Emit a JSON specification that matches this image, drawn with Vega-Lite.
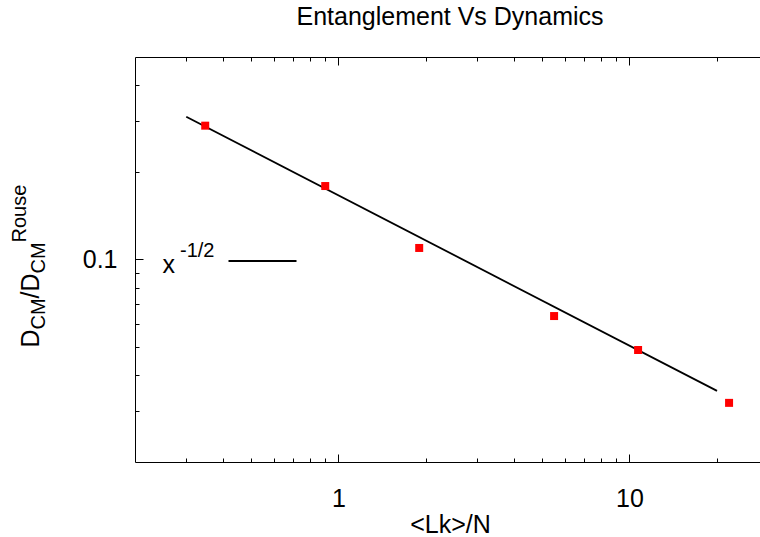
{
  "$schema": "https://vega.github.io/schema/vega-lite/v6.json",
  "width": 625,
  "height": 405,
  "autosize": {"type": "none"},
  "padding": {"left": 135, "top": 57, "right": 0, "bottom": 75},
  "background": "white",
  "config": {
    "view": {"stroke": null},
    "font": "Liberation Sans",
    "axis": {
      "grid": false,
      "domainColor": "black",
      "domainWidth": 1,
      "tickColor": "black",
      "tickWidth": 1,
      "labelColor": "black",
      "titleColor": "black",
      "labelFont": "Liberation Sans",
      "titleFont": "Liberation Sans",
      "labelFontSize": 25,
      "titleFontSize": 25,
      "titleFontWeight": "normal"
    }
  },
  "title": {
    "text": "Entanglement Vs Dynamics",
    "font": "Liberation Sans",
    "fontSize": 25,
    "fontWeight": "normal",
    "color": "black",
    "anchor": "middle",
    "frame": "group",
    "dx": 2.5,
    "offset": 7,
    "baseline": "alphabetic"
  },
  "datasets": {
    "fit": [
      {"lk": 0.3, "d": 0.311},
      {"lk": 20, "d": 0.0352}
    ],
    "sim": [
      {"lk": 0.3486, "d": 0.2897},
      {"lk": 0.901, "d": 0.1793},
      {"lk": 1.895, "d": 0.1096},
      {"lk": 5.51, "d": 0.0638},
      {"lk": 10.71, "d": 0.0487},
      {"lk": 22.0, "d": 0.032}
    ]
  },
  "layer": [
    {
      "data": {"name": "fit"},
      "mark": {"type": "line", "strokeWidth": 1.8},
      "encoding": {
        "x": {
          "field": "lk",
          "type": "quantitative",
          "scale": {"type": "log", "domain": [0.2, 28.1], "nice": false},
          "axis": {
            "orient": "bottom",
            "values": [0.3, 0.4, 0.5, 0.6, 0.7, 0.8, 0.9, 1, 2, 3, 4, 5, 6, 7, 8, 9, 10, 20],
            "tickSize": {"condition": {"test": "datum.value == 1 || datum.value == 10", "value": -8}, "value": -4},
            "labelExpr": "datum.value == 1 ? '1' : datum.value == 10 ? '10' : ''",
            "labelPadding": 32,
            "labelFlush": false,
            "labelOverlap": false,
            "title": "<Lk>/N",
            "titleFontSize": 25,
            "titleX": 315,
            "titleY": 70.6,
            "titleAlign": "center",
            "titleBaseline": "alphabetic"
          }
        },
        "y": {
          "field": "d",
          "type": "quantitative",
          "scale": {"type": "log", "domain": [0.02, 0.5], "nice": false},
          "axis": {
            "orient": "left",
            "values": [0.03, 0.04, 0.05, 0.06, 0.07, 0.08, 0.09, 0.1, 0.2, 0.3, 0.4],
            "tickSize": {"condition": {"test": "datum.value == 0.1", "value": -8}, "value": -4},
            "labelExpr": "datum.value == 0.1 ? '0.1' : ''",
            "labelPadding": 26,
            "labelFlush": false,
            "labelOverlap": false,
            "title": "D",
            "titleAngle": -90,
            "titleX": -97,
            "titleY": 290,
            "titleAlign": "left",
            "titleBaseline": "alphabetic"
          }
        },
        "stroke": {
          "datum": "-1/2",
          "scale": {"range": ["black"]},
          "legend": {
            "orient": "none",
            "legendX": 27.5,
            "legendY": 169,
            "padding": 0,
            "title": "x",
            "titleOrient": "left",
            "titleFont": "Liberation Sans",
            "titleFontSize": 25,
            "titleFontWeight": "normal",
            "titleColor": "black",
            "titlePadding": 52,
            "titleBaseline": "middle",
            "titleAnchor": "end",
            "symbolType": "stroke",
            "symbolSize": 4624,
            "symbolStrokeWidth": 1.8,
            "labelFont": "Liberation Sans",
            "labelFontSize": 20,
            "labelColor": "black",
            "labelAlign": "right",
            "labelOffset": -83,
            "labelBaseline": "bottom"
          }
        }
      }
    },
    {
      "data": {"name": "sim"},
      "mark": {"type": "square", "filled": true, "color": "#ff0000", "size": 64, "opacity": 1},
      "encoding": {
        "x": {
          "field": "lk",
          "type": "quantitative",
          "scale": {"type": "log", "domain": [0.2, 28.1], "nice": false},
          "axis": {
            "orient": "top",
            "values": [0.3, 0.4, 0.5, 0.6, 0.7, 0.8, 0.9, 1, 2, 3, 4, 5, 6, 7, 8, 9, 10, 20],
            "tickSize": {"condition": {"test": "datum.value == 1 || datum.value == 10", "value": -8}, "value": -4},
            "labels": false,
            "title": "CM",
            "titleFontSize": 20,
            "titleAngle": -90,
            "titleX": -91,
            "titleY": 272,
            "titleAlign": "left",
            "titleBaseline": "alphabetic"
          }
        },
        "y": {
          "field": "d",
          "type": "quantitative",
          "scale": {"type": "log", "domain": [0.02, 0.5], "nice": false},
          "axis": {
            "orient": "left",
            "ticks": false,
            "labels": false,
            "domain": false,
            "title": "/D",
            "titleAngle": -90,
            "titleX": -97,
            "titleY": 241,
            "titleAlign": "left",
            "titleBaseline": "alphabetic"
          }
        }
      }
    },
    {
      "data": {"name": "sim"},
      "mark": {"type": "point", "opacity": 0},
      "encoding": {
        "x": {
          "field": "lk",
          "type": "quantitative",
          "scale": {"type": "log", "domain": [0.2, 28.1], "nice": false},
          "axis": {
            "orient": "top",
            "ticks": false,
            "labels": false,
            "domain": false,
            "title": "CM",
            "titleFontSize": 20,
            "titleAngle": -90,
            "titleX": -91,
            "titleY": 216,
            "titleAlign": "left",
            "titleBaseline": "alphabetic"
          }
        },
        "y": {
          "field": "d",
          "type": "quantitative",
          "scale": {"type": "log", "domain": [0.02, 0.5], "nice": false},
          "axis": {
            "orient": "left",
            "ticks": false,
            "labels": false,
            "domain": false,
            "title": "Rouse",
            "titleFontSize": 20,
            "titleAngle": -90,
            "titleX": -110,
            "titleY": 185,
            "titleAlign": "left",
            "titleBaseline": "alphabetic"
          }
        }
      }
    }
  ],
  "resolve": {"axis": {"x": "independent", "y": "independent"}}
}
